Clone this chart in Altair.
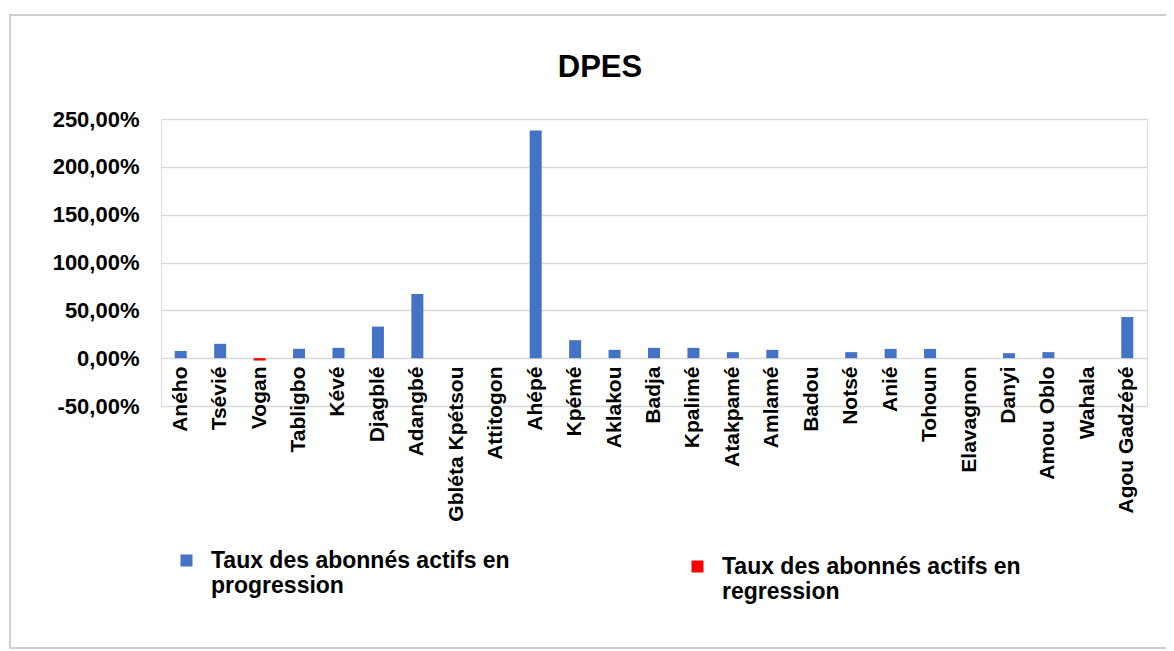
import altair as alt
import pandas as pd

categories = ["Aného", "Tsévié", "Vogan", "Tabligbo", "Kévé", "Djagblé", "Adangbé",
              "Gbléta Kpétsou", "Attitogon", "Ahépé", "Kpémé", "Aklakou", "Badja",
              "Kpalimé", "Atakpamé", "Amlamé", "Badou", "Notsé", "Anié", "Tohoun",
              "Elavagnon", "Danyi", "Amou Oblo", "Wahala", "Agou Gadzépé"]
# rates in percent
progression = [7.5, 15.0, None, 9.8, 10.8, 33.0, 67.0,
               None, None, 238.0, 18.8, 8.7, 10.8,
               10.8, 6.3, 8.7, None, 6.3, 9.7, 9.7,
               None, 5.2, 6.3, None, 43.0]
regression = [None, None, -2.5, None, None, None, None,
              None, None, None, None, None, None,
              None, None, None, None, None, None, None,
              None, None, None, None, None]
series_names = ["Taux des abonnés actifs en progression",
                "Taux des abonnés actifs en regression"]
series_colors = ["#4472C4", "#FF0000"]
y_ticks = [-50, 0, 50, 100, 150, 200, 250]

df_prog = pd.DataFrame([{"cat": c, "val": v, "serie": series_names[0]}
                        for c, v in zip(categories, progression) if v is not None])
df_reg = pd.DataFrame([{"cat": c, "val": v, "serie": series_names[1]}
                       for c, v in zip(categories, regression) if v is not None])

FONT = "Liberation Sans, Arial, sans-serif"
W, H = 986, 287

x_enc = alt.X("cat:N", sort=categories, scale=alt.Scale(domain=categories),
              axis=alt.Axis(title=None, labelAngle=270, labelFontSize=21, labelFont=FONT,
                            labelFontWeight="bold", labelColor="black", labelPadding=8,
                            ticks=False, domain=False, offset=-48, labelOverlap=False,
                            labelLimit=300, grid=False))
y_enc = alt.Y("val:Q", scale=alt.Scale(domain=[-50, 250], nice=False),
              axis=alt.Axis(title=None, values=y_ticks, tickSize=0, ticks=False, domain=False,
                            labelFontSize=22, labelFont=FONT, labelFontWeight="bold",
                            labelColor="black", labelPadding=22, gridColor="#d9d9d9",
                            gridWidth=1.5,
                            labelExpr="replace(replace(format(datum.value, '.2f'), '.', ','), '\u2212', '-') + '%'"))

legend_common = dict(title=None, orient="none", symbolType="square", symbolSize=144,
                     symbolStrokeWidth=0, labelFontSize=23, labelFont=FONT,
                     labelFontWeight="bold", labelColor="black", labelLimit=500,
                     labelOffset=13,
                     labelExpr="[slice(datum.label, 0, 26), '\u00a0\u00a0' + slice(datum.label, 27)]")

frame = alt.Chart(pd.DataFrame({"a": [0]})).mark_rect(
    fillOpacity=0, stroke="#cfcfcf", strokeWidth=2
).encode(
    x=alt.value(-151), x2=alt.value(1011), y=alt.value(-104), y2=alt.value(529)
)

bars_prog = alt.Chart(df_prog).mark_bar(size=12).encode(
    x=x_enc, y=y_enc,
    color=alt.Color("serie:N", scale=alt.Scale(domain=[series_names[0]], range=[series_colors[0]]),
                    legend=alt.Legend(legendX=14, legendY=430, **legend_common))
)

bars_reg = alt.Chart(df_reg).mark_bar(size=12).encode(
    x=x_enc, y=y_enc,
    fill=alt.Fill("serie:N", scale=alt.Scale(domain=[series_names[1]], range=[series_colors[1]]),
                  legend=alt.Legend(legendX=525, legendY=436, **legend_common))
)

chart = alt.layer(frame, bars_prog, bars_reg).properties(
    width=W, height=H,
    title=alt.TitleParams("DPES", fontSize=31, font=FONT, fontWeight="bold", color="black",
                          anchor="middle", dx=-54, offset=-70),
    autosize=alt.AutoSizeParams(type="none"),
    padding={"left": 153, "top": 111, "right": 19, "bottom": 244}
).configure_view(stroke=None).configure(background="white")

chart.save("out.html", embed_options={"renderer": "svg", "actions": False})
